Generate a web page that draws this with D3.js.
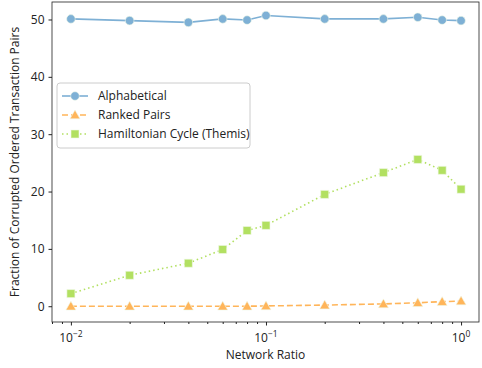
<!DOCTYPE html>
<html>
<head>
<meta charset="utf-8">
<script src="https://cdn.jsdelivr.net/npm/d3@7"></script>
<style>
  body { margin: 0; background: #fff; }
  text { font-family: "Open Sans", "DejaVu Sans", sans-serif; fill: #222; }
</style>
</head>
<body>
<svg id="chart" width="482" height="368"></svg>
<script>
// data
var ratios = [0.01, 0.02, 0.04, 0.06, 0.08, 0.1, 0.2, 0.4, 0.6, 0.8, 1.0];
var alphabetical = [50.1, 49.8, 49.5, 50.1, 49.9, 50.7, 50.1, 50.1, 50.4, 49.9, 49.8];
var rankedPairs = [0, 0, 0, 0, 0, 0.05, 0.2, 0.4, 0.6, 0.8, 0.9];
var hamiltonian = [2.2, 5.4, 7.5, 9.9, 13.2, 14.1, 19.5, 23.3, 25.6, 23.7, 20.4];
var seriesNames = ['Alphabetical', 'Ranked Pairs', 'Hamiltonian Cycle (Themis)'];
var yTicks = [0, 10, 20, 30, 40, 50];
var xTicks = [0.01, 0.1, 1];

var margin = { left: 52, right: 3, top: 2, bottom: 46 },
    width = 482 - margin.left - margin.right,
    height = 368 - margin.top - margin.bottom;

var svg = d3.select('#chart');
var g = svg.append('g')
    .attr('transform', 'translate(' + margin.left + ',' + margin.top + ')');

var x = d3.scaleLog().domain([0.008, 1.236]).range([0, width]);
var y = d3.scaleLinear().domain([-2.75, 53.05]).range([height, 0]);

var series = [
  { name: seriesNames[0], values: alphabetical, color: '#7eb0d5', dash: null, marker: 'circle' },
  { name: seriesNames[1], values: rankedPairs, color: '#ffb55a', dash: '6,3', marker: 'triangle' },
  { name: seriesNames[2], values: hamiltonian, color: '#b2e061', dash: '1.5,3', marker: 'square' }
];

function drawMarker(sel, type, color) {
  if (type === 'circle') {
    sel.append('circle').attr('r', 4.3);
  } else if (type === 'triangle') {
    sel.append('path').attr('d', 'M0,-5L5,3.8L-5,3.8Z');
  } else {
    sel.append('rect').attr('x', -4).attr('y', -4).attr('width', 8).attr('height', 8);
  }
  sel.selectAll('*')
    .attr('fill', color)
    .attr('stroke', '#f0f8e8')
    .attr('stroke-opacity', 0.6)
    .attr('stroke-width', 1);
}

// lines and markers
var line = d3.line()
    .x(function (d, i) { return x(ratios[i]); })
    .y(function (d) { return y(d); });

series.forEach(function (s) {
  g.append('path')
    .datum(s.values)
    .attr('fill', 'none')
    .attr('stroke', s.color)
    .attr('stroke-width', 1.6)
    .attr('stroke-dasharray', s.dash)
    .attr('d', line);
  g.selectAll(null)
    .data(s.values)
    .enter().append('g')
    .attr('transform', function (d, i) { return 'translate(' + x(ratios[i]) + ',' + y(d) + ')'; })
    .each(function () { drawMarker(d3.select(this), s.marker, s.color); });
});

// axes
var minorTicks = [];
[0.001, 0.01, 0.1, 1].forEach(function (dec) {
  for (var k = 2; k <= 9; k++) {
    var v = dec * k;
    if (v >= x.domain()[0] && v <= x.domain()[1]) minorTicks.push(v);
  }
});

var xAxis = g.append('g').attr('transform', 'translate(0,' + height + ')');
xAxis.call(d3.axisBottom(x).tickValues(xTicks).tickSize(3.5).tickFormat(''));
xAxis.append('g').call(d3.axisBottom(x).tickValues(minorTicks).tickSize(2).tickFormat(''));
xAxis.selectAll('.tick line').attr('stroke', '#222');
xAxis.selectAll('.domain').remove();

xTicks.forEach(function (v) {
  var exp = Math.round(Math.log10(v));
  var t = g.append('text')
    .attr('x', x(v))
    .attr('y', height + 20)
    .attr('text-anchor', 'middle')
    .style('font-size', '12px');
  t.append('tspan').text('10');
  t.append('tspan').attr('dy', -5).style('font-size', '8.5px')
    .text(exp < 0 ? '\u2212' + Math.abs(exp) : String(exp));
});

var yAxis = g.append('g')
    .call(d3.axisLeft(y).tickValues(yTicks).tickSize(3.5).tickPadding(4));
yAxis.selectAll('.tick text').style('font-size', '12px').attr('fill', '#222');
yAxis.selectAll('.tick line').attr('stroke', '#222');
yAxis.select('.domain').remove();

// frame
g.append('rect')
  .attr('width', width).attr('height', height)
  .attr('fill', 'none').attr('stroke', '#222').attr('stroke-width', 0.8);

// labels
svg.append('text')
  .attr('x', margin.left + width / 2)
  .attr('y', 359)
  .attr('text-anchor', 'middle')
  .style('font-size', '12px')
  .text('Network Ratio');

svg.append('text')
  .attr('transform', 'translate(19,' + (margin.top + height / 2) + ') rotate(-90)')
  .attr('text-anchor', 'middle')
  .style('font-size', '12px')
  .text('Fraction of Corrupted Ordered Transaction Pairs');

// legend
var legend = g.append('g').attr('transform', 'translate(5,81)');
legend.append('rect')
  .attr('width', 193).attr('height', 65).attr('rx', 3)
  .attr('fill', '#fff').attr('fill-opacity', 0.8)
  .attr('stroke', '#ccc');
series.forEach(function (s, i) {
  var row = legend.append('g').attr('transform', 'translate(0,' + (13 + i * 19) + ')');
  row.append('line')
    .attr('x1', 5).attr('x2', 31)
    .attr('stroke', s.color).attr('stroke-width', 1.6)
    .attr('stroke-dasharray', s.dash);
  row.append('g').attr('transform', 'translate(18,0)')
    .each(function () { drawMarker(d3.select(this), s.marker, s.color); });
  row.append('text')
    .attr('x', 41).attr('y', 4)
    .style('font-size', '12px')
    .text(s.name);
});
</script>
</body>
</html>
